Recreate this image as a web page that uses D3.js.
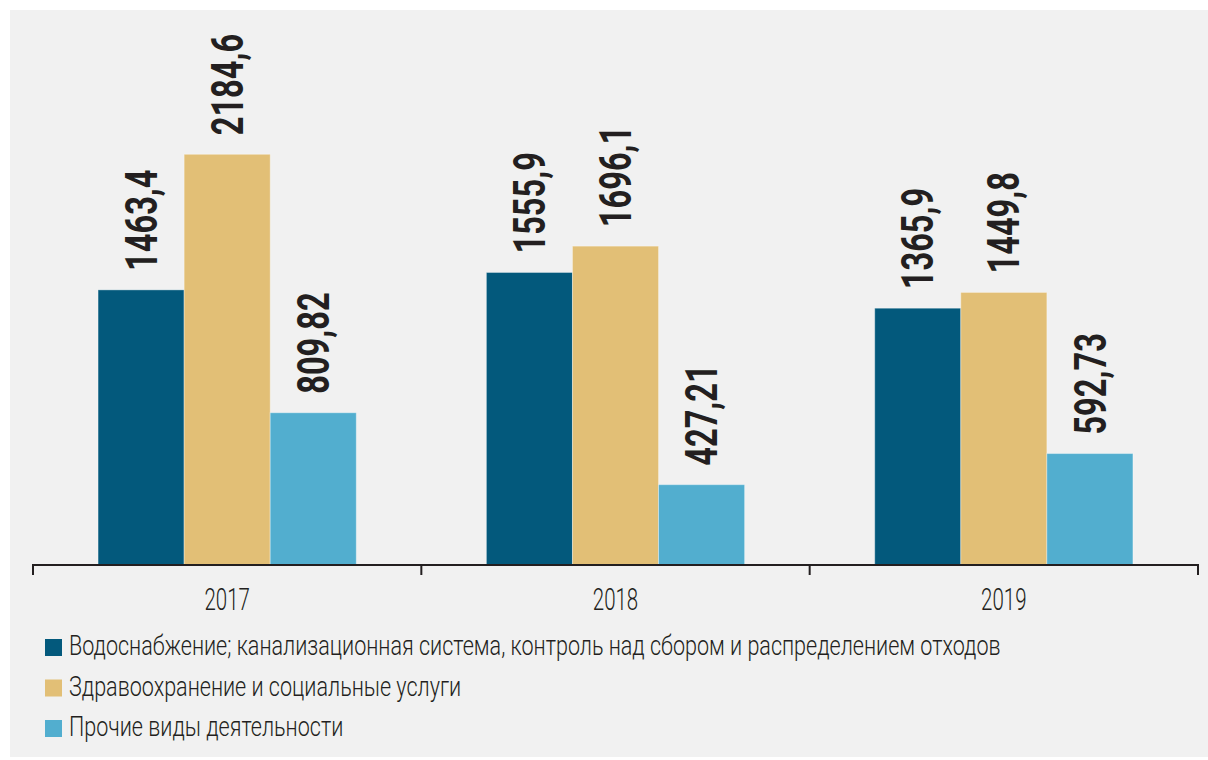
<!DOCTYPE html>
<html>
<head>
<meta charset="utf-8">
<script src="https://cdn.jsdelivr.net/npm/d3@7"></script>
<style>
  html, body { margin: 0; padding: 0; background: #ffffff; }
  svg { display: block; }
</style>
</head>
<body>
<svg id="chart"></svg>
<script>
// Data
const years = ['2017', '2018', '2019'];
const seriesNames = [
    'Водоснабжение; канализационная система, контроль над сбором и распределением отходов',
    'Здравоохранение и социальные услуги',
    'Прочие виды деятельности'
];
const water = [1463.4, 1555.9, 1365.9];
const health = [2184.6, 1696.1, 1449.8];
const other = [809.82, 427.21, 592.73];
const valueLabels = [
    ['1463,4', '1555,9', '1365,9'],
    ['2184,6', '1696,1', '1449,8'],
    ['809,82', '427,21', '592,73']
];
const colors = ['#03597c', '#e2bf76', '#52aecf'];

const width = 1208;
const height = 760;
const baseY = 565;

const svg = d3.select('#chart')
    .attr('width', width)
    .attr('height', height);

// Panel background
svg.append('rect')
    .attr('x', 10)
    .attr('y', 10)
    .attr('width', 1198)
    .attr('height', 747)
    .attr('fill', '#f1f1f1');

const values = [water, health, other];

// Scales
const x0 = d3.scaleBand()
    .domain(years)
    .range([33, 1198])
    .padding(0);

const x1 = d3.scaleBand()
    .domain(d3.range(seriesNames.length))
    .range([0, x0.bandwidth()])
    .paddingInner(0)
    .paddingOuter(0.756);

const y = d3.scaleLinear()
    .domain([0, 2500])
    .range([baseY, baseY - 470]);

// Bars
years.forEach((year, i) => {
    const g = svg.append('g')
        .attr('transform', `translate(${x0(year)},0)`);

    values.forEach((series, s) => {
        g.append('rect')
            .attr('x', x1(s))
            .attr('y', y(series[i]))
            .attr('width', x1.bandwidth())
            .attr('height', baseY - y(series[i]))
            .attr('fill', colors[s])
            .attr('stroke', 'rgba(255,255,255,0.35)')
            .attr('stroke-width', 1);

        // Rotated value label
        const cx = x1(s) + x1.bandwidth() / 2;
        g.append('g')
            .attr('transform', `translate(${cx},${y(series[i]) - 19}) rotate(-90)`)
            .append('text')
            .attr('transform', 'scale(0.74,1)')
            .attr('dy', '0.355em')
            .attr('font-family', 'Roboto, sans-serif')
            .attr('font-weight', 700)
            .attr('font-size', 44)
            .attr('fill', '#231f20')
            .text(valueLabels[s][i]);
    });
});

// Axis line with ticks at group boundaries
const edges = years.map(d => x0(d)).concat([x0.range()[1]]);
svg.append('path')
    .attr('d', `M${edges[0]},${baseY + 10}V${baseY}H${edges[edges.length - 1]}V${baseY + 10}`)
    .attr('fill', 'none')
    .attr('stroke', '#231f20')
    .attr('stroke-width', 2);

svg.selectAll('.inner-tick')
    .data(edges.slice(1, -1))
    .enter()
    .append('line')
    .attr('class', 'inner-tick')
    .attr('x1', d => d)
    .attr('x2', d => d)
    .attr('y1', baseY)
    .attr('y2', baseY + 10)
    .attr('stroke', '#231f20')
    .attr('stroke-width', 2);

// Year labels
const xAxis = svg.append('g')
    .attr('transform', `translate(0,${baseY})`)
    .call(d3.axisBottom(x0).tickSize(0).tickPadding(0));
xAxis.select('.domain').remove();
xAxis.selectAll('.tick text')
    .attr('dy', null)
    .attr('y', 0)
    .attr('transform', 'translate(0,45) scale(0.64,1)')
    .attr('font-family', 'Roboto, sans-serif')
    .attr('font-weight', 300)
    .attr('font-size', 32)
    .attr('fill', '#231f20');

// Legend
const legend = svg.append('g');
seriesNames.forEach((name, s) => {
    const top = 639 + s * 40.5;
    legend.append('rect')
        .attr('x', 45)
        .attr('y', top)
        .attr('width', 17)
        .attr('height', 17)
        .attr('fill', colors[s]);
    legend.append('text')
        .attr('transform', `translate(69,${top + 16}) scale(0.77,1)`)
        .attr('font-family', 'Roboto, sans-serif')
        .attr('font-weight', 300)
        .attr('font-size', 28)
        .attr('fill', '#231f20')
        .text(name);
});
</script>
</body>
</html>
